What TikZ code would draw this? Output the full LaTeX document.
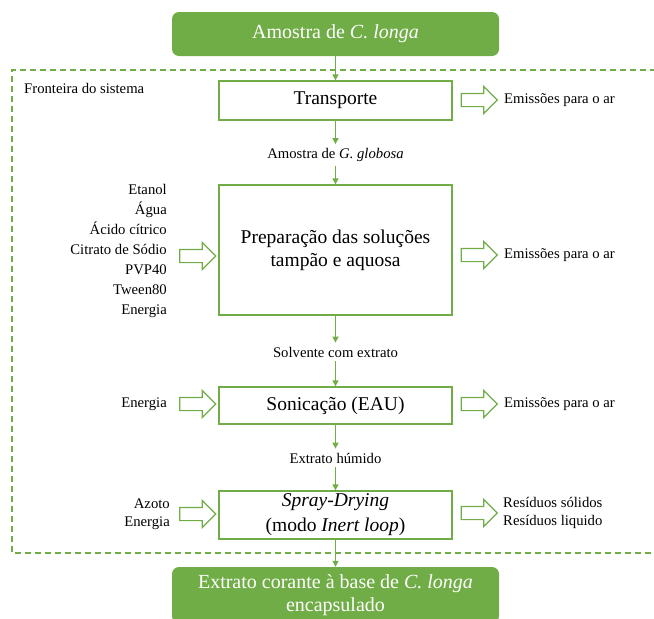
\documentclass[tikz,border=0pt]{standalone}
\usepackage{fontspec}
\setmainfont{Liberation Serif}
\usetikzlibrary{arrows.meta,shapes.arrows}
\definecolor{leaf}{HTML}{70AD47}
\begin{document}
\begin{tikzpicture}[x=1pt,y=-1pt,
  proc/.style={draw=leaf,line width=1.3pt,fill=white,minimum width=233pt,inner sep=0pt,
    font=\fontsize{19.5}{23}\selectfont,align=center},
  endbox/.style={fill=leaf,rounded corners=7pt,text=white,minimum width=327pt,inner sep=0pt,
    font=\fontsize{20}{23}\selectfont,align=center},
  flow/.style={draw=leaf,line width=1.2pt,-{Triangle[length=6pt,width=6pt]}},
  side/.style={inner sep=0pt,font=\fontsize{14.7}{20}\selectfont},
  stream/.style={side,inner sep=4pt},
  hollow/.style={single arrow,draw=leaf,line width=1.2pt,fill=white,minimum height=36pt,
    inner sep=6pt,single arrow head extend=7pt,single arrow head indent=0pt},
  boundary/.style={draw=leaf,line width=1.4pt,dash pattern=on 6pt off 4pt}
]
\useasboundingbox (0,0) rectangle (654,619);

% system boundary
\draw[boundary] (656,70) -- (12,70) -- (12,553) -- (656,553);
\node[side,anchor=west] (fronteira) at (24,88) {Fronteira do sistema};

% inflow and outflow products
\node[endbox,minimum height=44pt] (amostra) at (335.5,34) {Amostra de \textit{C. longa}};
\node[endbox,minimum height=56pt] (produto) at (335.5,595) {Extrato corante à base de \textit{C. longa}\\encapsulado};

% process steps
\node[proc,minimum height=39pt] (transp) at (335.5,100.5) {Transporte};
\node[proc,minimum height=130pt] (prep) at (335.5,250) {Preparação das soluções\\tampão e aquosa};
\node[proc,minimum height=37pt] (sonic) at (335.5,405.5) {Sonicação (EAU)};
\node[proc,minimum height=48pt,font=\fontsize{19.5}{25}\selectfont] (spray) at (335.5,515) {\textit{Spray-Drying}\\(modo \textit{Inert loop})};

% intermediate streams
\node[stream] (globosa) at (335.5,155) {Amostra de \textit{G. globosa}};
\node[stream] (solvente) at (335.5,352) {Solvente com extrato};
\node[stream] (humido) at (335.5,458) {Extrato húmido};

\draw[flow] (amostra) -- (transp);
\draw[flow] (transp) -- (globosa);
\draw[flow] (globosa) -- (prep);
\draw[flow] (prep) -- (solvente);
\draw[flow] (solvente) -- (sonic);
\draw[flow] (sonic) -- (humido);
\draw[flow] (humido) -- (spray);
\draw[flow] (spray) -- (produto);

% inputs
\node[hollow] (inPrep) at (194.5,256) {};
\node[hollow] (inSonic) at (194.5,404) {};
\node[hollow] (inSpray) at (194.5,514) {};
\node[side,align=right,anchor=east] (insumos) at (167,251) {Etanol\\Água\\Ácido cítrico\\Citrato de Sódio\\PVP40\\Tween80\\Energia};
\node[side,anchor=east] (energiaS) at (167,404) {Energia};
\node[side,align=right,anchor=east,font=\fontsize{14.7}{17.5}\selectfont] (azoto) at (170,514) {Azoto\\Energia};

% outputs
\node[hollow] (outTransp) at (476,100) {};
\node[hollow] (outPrep) at (476,255) {};
\node[hollow] (outSonic) at (476,404) {};
\node[hollow] (outSpray) at (476,513) {};
\node[side,anchor=west] (emTransp) at (504,100) {Emissões para o ar};
\node[side,anchor=west] (emPrep) at (504,255) {Emissões para o ar};
\node[side,anchor=west] (emSonic) at (504,404) {Emissões para o ar};
\node[side,align=left,anchor=west,font=\fontsize{14.7}{17.5}\selectfont] (residuos) at (503,513) {Resíduos sólidos\\Resíduos liquido};
\end{tikzpicture}
\end{document}
